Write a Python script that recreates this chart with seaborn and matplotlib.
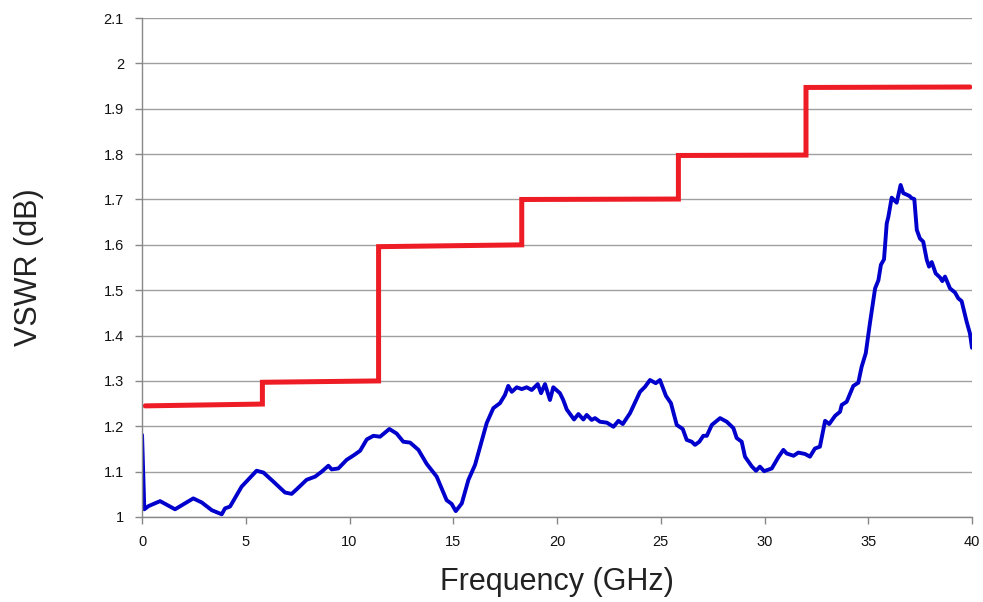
# VSWR vs frequency: measured curve and stepped spec limit
import numpy as np
import pandas as pd
import matplotlib
matplotlib.use('Agg')
import matplotlib.pyplot as plt
import seaborn as sns

freq = [0.0, 0.11, 0.31, 0.87, 1.59, 2.47, 2.88, 3.36, 3.84, 4.0, 4.24, 4.80,
        5.52, 5.85, 6.33, 6.89, 7.21, 7.45, 7.93, 8.34, 8.66, 8.98, 9.14, 9.46,
        9.86, 10.2, 10.51, 10.83, 11.15, 11.47, 11.92, 12.27, 12.59, 12.92,
        13.32, 13.72, 14.20, 14.68, 14.92, 15.12, 15.41, 15.73, 16.05, 16.61,
        16.93, 17.25, 17.49, 17.65, 17.82, 18.06, 18.30, 18.54, 18.78, 19.07,
        19.23, 19.42, 19.66, 19.82, 20.14, 20.30, 20.47, 20.82, 21.03, 21.27,
        21.43, 21.67, 21.83, 22.07, 22.40, 22.72, 22.96, 23.17, 23.52, 24.00,
        24.24, 24.48, 24.76, 24.96, 25.25, 25.49, 25.77, 26.06, 26.25, 26.49,
        26.65, 26.86, 27.05, 27.22, 27.46, 27.86, 28.18, 28.50, 28.66, 28.90,
        29.06, 29.38, 29.59, 29.78, 29.98, 30.35, 30.67, 30.91, 31.07, 31.40,
        31.63, 31.95, 32.19, 32.43, 32.67, 32.92, 33.12, 33.40, 33.64, 33.72,
        33.96, 34.28, 34.52, 34.68, 34.88, 35.08, 35.33, 35.49, 35.61, 35.76,
        35.89, 35.97, 36.13, 36.37, 36.56, 36.69, 36.98, 37.09, 37.22, 37.34,
        37.49, 37.65, 37.82, 37.93, 38.06, 38.25, 38.46, 38.57, 38.70, 38.94,
        39.18, 39.34, 39.50, 39.74, 39.90, 40.0]
vswr = [1.181, 1.017, 1.024, 1.035, 1.017, 1.041, 1.032, 1.015, 1.006, 1.019,
        1.023, 1.067, 1.102, 1.098, 1.078, 1.054, 1.051, 1.061, 1.082, 1.089,
        1.100, 1.113, 1.105, 1.107, 1.126, 1.136, 1.146, 1.171, 1.179, 1.177,
        1.194, 1.184, 1.166, 1.164, 1.148, 1.117, 1.089, 1.037, 1.029, 1.013,
        1.030, 1.082, 1.115, 1.207, 1.240, 1.251, 1.269, 1.289, 1.276, 1.286,
        1.282, 1.286, 1.280, 1.293, 1.273, 1.293, 1.258, 1.286, 1.273, 1.258,
        1.237, 1.215, 1.227, 1.215, 1.225, 1.214, 1.218, 1.210, 1.208, 1.199,
        1.212, 1.205, 1.229, 1.276, 1.287, 1.302, 1.295, 1.302, 1.267, 1.251,
        1.203, 1.194, 1.170, 1.166, 1.159, 1.166, 1.179, 1.179, 1.203, 1.218,
        1.210, 1.196, 1.174, 1.166, 1.133, 1.112, 1.102, 1.111, 1.101, 1.107,
        1.132, 1.148, 1.140, 1.135, 1.142, 1.139, 1.133, 1.151, 1.155, 1.212,
        1.205, 1.223, 1.232, 1.247, 1.254, 1.289, 1.296, 1.331, 1.361, 1.427,
        1.504, 1.522, 1.556, 1.568, 1.647, 1.662, 1.704, 1.693, 1.732, 1.714,
        1.708, 1.703, 1.701, 1.633, 1.614, 1.607, 1.567, 1.552, 1.562, 1.537,
        1.528, 1.520, 1.530, 1.504, 1.495, 1.482, 1.476, 1.431, 1.405, 1.373]

# Spec limit (red), stepped
limit_freq = [0.15, 5.8, 5.8, 11.4, 11.4, 18.3, 18.3, 25.85, 25.85, 32.0, 32.0, 39.9]
limit_vswr = [1.245, 1.249, 1.297, 1.300, 1.596, 1.600, 1.700, 1.701,
              1.797, 1.798, 1.947, 1.948]

sns.set_style('white')
plt.rcParams['font.family'] = ['Liberation Sans', 'DejaVu Sans']

fig = plt.figure(figsize=(9.83, 6.02), dpi=100)
ax = fig.add_axes([0.1445, 0.1412, 0.8443, 0.8288])

sns.lineplot(x=limit_freq, y=limit_vswr, sort=False, estimator=None,
             color='#ee1c25', linewidth=3.6, ax=ax, solid_joinstyle='miter')
sns.lineplot(x=freq, y=vswr, sort=False, estimator=None,
             color='#0000cc', linewidth=2.8, ax=ax)

ax.set_xlim(0, 40)
ax.set_ylim(1, 2.1)
ax.set_xticks(np.arange(0, 41, 5))
ax.set_yticks(np.round(np.arange(1, 2.11, 0.1), 1))
ax.set_yticklabels(['1', '1.1', '1.2', '1.3', '1.4', '1.5', '1.6', '1.7',
                    '1.8', '1.9', '2', '2.1'])
ax.yaxis.grid(True, color='#a0a0a0', linewidth=1)
ax.xaxis.grid(False)
ax.set_axisbelow(True)

for side in ['top', 'right']:
    ax.spines[side].set_visible(False)
for side in ['left', 'bottom']:
    ax.spines[side].set_color('#888888')
    ax.spines[side].set_linewidth(1)

ax.tick_params(axis='both', direction='out', length=5, width=1, color='#888888',
               labelsize=10.5, labelcolor='#111111', bottom=True, left=True)
ax.tick_params(axis='y', pad=8)
ax.tick_params(axis='x', pad=8)

ax.set_xlabel('Frequency (GHz)', fontsize=22, color='#222222', labelpad=13)
ax.set_ylabel('VSWR (dB)', fontsize=22, color='#222222', labelpad=43)

fig.savefig('out.png', dpi=100)
